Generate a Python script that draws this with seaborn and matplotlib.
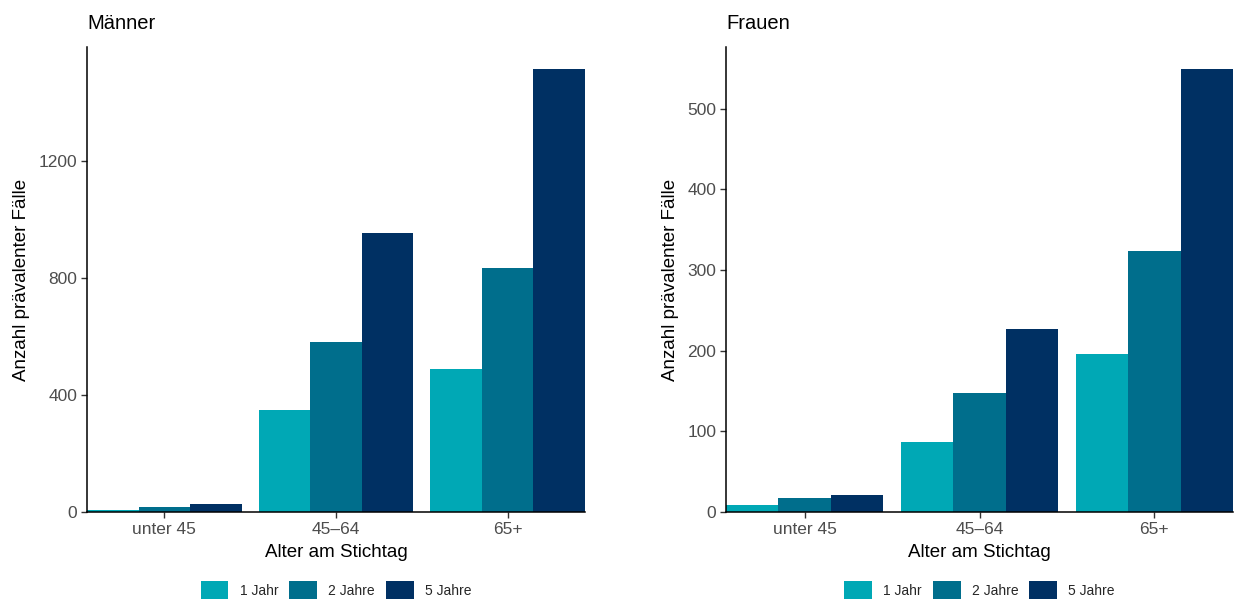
import numpy as np
import pandas as pd
import matplotlib
matplotlib.use("Agg")
import matplotlib.pyplot as plt
import seaborn as sns

alter = ["unter 45", "45\u201364", "65+"]
zeitraum = ["1 Jahr", "2 Jahre", "5 Jahre"]
farben = ["#00A8B5", "#006E8C", "#003063"]

# Anzahl praevalenter Faelle je Altersgruppe (Zeilen) und Zeitraum (Spalten)
maenner = [[8, 16, 28],
           [350, 582, 956],
           [490, 834, 1515]]
frauen = [[9, 17, 21],
          [87, 148, 227],
          [196, 323, 549]]
ticks_m = [0, 400, 800, 1200]
ticks_f = [0, 100, 200, 300, 400, 500]


def to_long(werte):
    rows = []
    for i, a in enumerate(alter):
        for j, z in enumerate(zeitraum):
            rows.append({"Alter": a, "Zeitraum": z, "n": werte[i][j]})
    return pd.DataFrame(rows)


sns.set_style("ticks")
plt.rcParams['font.family'] = ['Liberation Sans', 'DejaVu Sans']

fig = plt.figure(figsize=(12.34, 6.01), dpi=100)
ax1 = fig.add_axes([87/1234, 89/601, 498/1234, 465/601])
ax2 = fig.add_axes([726/1234, 89/601, 507/1234, 465/601])

for ax, werte, titel, yt in [(ax1, maenner, "Männer", ticks_m),
                             (ax2, frauen, "Frauen", ticks_f)]:
    df = to_long(werte)
    sns.barplot(data=df, x="Alter", y="n", hue="Zeitraum", order=alter,
                hue_order=zeitraum, palette=farben, width=0.9, saturation=1,
                errorbar=None, linewidth=0, ax=ax)
    ax.set_xlim(-0.45, 2.45)
    ax.set_ylim(0, df["n"].max() * 1.05)
    ax.set_yticks(yt)
    ax.set_yticklabels([str(t) for t in yt])
    for s in ["top", "right"]:
        ax.spines[s].set_visible(False)
    for s in ["left", "bottom"]:
        ax.spines[s].set_color("black")
        ax.spines[s].set_linewidth(1.1)
    ax.tick_params(axis="both", labelcolor="#4D4D4D", labelsize=12.5,
                   length=4, width=1, direction="out", color="#333333",
                   pad=3)
    ax.set_xlabel("Alter am Stichtag", fontsize=13.5, color="black", labelpad=5)
    ax.set_ylabel("Anzahl prävalenter Fälle", fontsize=13.5, color="black",
                  labelpad=6)
    ax.set_title(titel, loc="left", fontsize=14.5, color="black", pad=13)
    leg = ax.legend(loc="center", bbox_to_anchor=(0.5, -0.168), ncol=3,
                    frameon=False, fontsize=10, handlelength=2.0,
                    handleheight=1.6, handletextpad=0.8, columnspacing=0.8,
                    title=None)
    for h in leg.legend_handles:
        h.set_edgecolor("none")

fig.savefig("out.png", dpi=100)
